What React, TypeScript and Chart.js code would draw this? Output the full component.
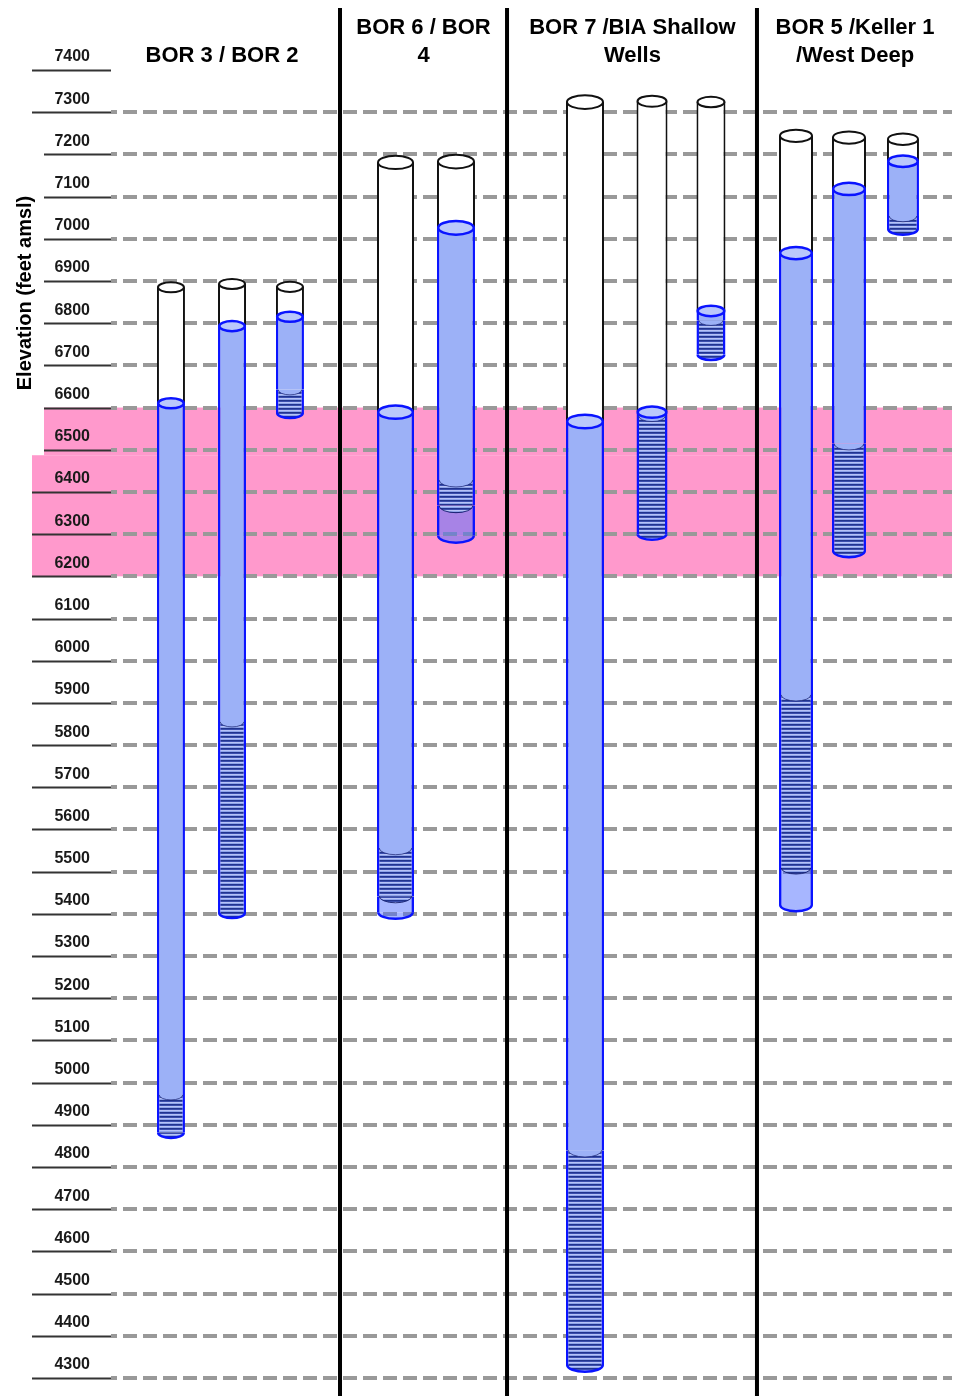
import React, { useEffect, useRef } from "react";
import { Chart, registerables } from "chart.js";

Chart.register(...registerables);

// ---------------- data ----------------
const WELLS = ["Well A", "Well B", "Well C", "Well D", "Well E", "Well F", "Well G", "Well H", "Well I", "Well J", "Well K"];
const GROUP_LABELS: string[][] = [
  ["BOR 3 / BOR 2"],
  ["BOR 6 / BOR", "4"],
  ["BOR 7 /BIA Shallow", "Wells"],
  ["BOR 5 /Keller 1", "/West Deep"],
];
const WELL_GROUP = [0, 0, 0, 1, 1, 2, 2, 2, 3, 3, 3];
// elevations in feet amsl
const WELL_TOP = [6885, 6893, 6886, 7181, 7183, 7324, 7326, 7324, 7244, 7240, 7236];
const WATER_LEVEL = [6610, 6793, 6815, 6589, 7026, 6567, 6589, 6829, 6966, 7118, 7184];
const SCREEN_TOP = [4971, 5855, 6642, 5556, 6428, 4840, 6580, 6807, 5919, 6514, 7054];
const SCREEN_BOTTOM = [4881, 5402, 6587, 5442, 6367, 4331, 6300, 6725, 5509, 6260, 7023];
const WELL_BOTTOM = [4881, 5402, 6587, 5404, 6296, 4331, 6300, 6725, 5421, 6260, 7023];
const TARGET_ZONE = [6200, 6600];
const ELEVATION_TICKS = [
  7400, 7300, 7200, 7100, 7000, 6900, 6800, 6700, 6600, 6500, 6400, 6300, 6200, 6100, 6000,
  5900, 5800, 5700, 5600, 5500, 5400, 5300, 5200, 5100, 5000, 4900, 4800, 4700, 4600, 4500,
  4400, 4300,
];
const AXIS_TITLE = "Elevation (feet amsl)";

// ---------------- layout (not data) ----------------
const WELL_SLOT = [7.13, 14.39, 21.28, 33.83, 41.02, 56.36, 64.33, 71.34, 81.45, 87.75, 94.17];
const WELL_PX = [28, 28, 28, 37, 38, 38, 31, 29, 34, 34, 32];
const GROUP_CENTER = [13.2, 37.16, 62.0, 88.47];
const GROUP_DIVIDER = [27.23, 47.09, 76.81];

const FONT = 'Arial, "Liberation Sans", Helvetica, sans-serif';
const BLUE_FILL = "#9cb1f7";
const BLUE_LINE = "#0a14ff";
const CAP_FILL = "#bac8fb";
const SUMP_FILL = "rgba(80,110,255,0.5)";
const PINK = "#ff99cc";

export default function App() {
  const ref = useRef<HTMLCanvasElement>(null);

  useEffect(() => {
    document.body.style.margin = "0";
    const canvas = ref.current!;
    const ctx0 = canvas.getContext("2d")!;
    const pc = document.createElement("canvas");
    pc.width = 4;
    pc.height = 4;
    const p = pc.getContext("2d")!;
    ["#22348e", "#3a4eae", "#b6c3f6", "#8ea3ea"].forEach((c, r) => {
      p.fillStyle = c;
      p.fillRect(0, r, 4, 1);
    });
    const hatch = ctx0.createPattern(pc, "repeat")!;

    const mk = (lo: number[], hi: number[]) =>
      WELLS.map((_, i) => ({ x: WELL_SLOT[i], y: [lo[i], hi[i]] }));

    const decor = {
      id: "wellDecor",
      afterDatasetsUpdate(chart: any) {
        chart.data.datasets.forEach((_: any, d: number) => {
          const meta = chart.getDatasetMeta(d);
          meta.data.forEach((el: any, i: number) => {
            el.width = WELL_PX[i];
          });
        });
      },
      beforeDraw(chart: any) {
        const { ctx, chartArea } = chart;
        const y = chart.scales.y;
        const yTop = y.getPixelForValue(TARGET_ZONE[1]);
        const yBot = y.getPixelForValue(TARGET_ZONE[0]);
        const ySplit = y.getPixelForValue(6487);
        ctx.save();
        ctx.fillStyle = PINK;
        ctx.fillRect(44, yTop, chartArea.right - 44, ySplit - yTop);
        ctx.fillRect(32, ySplit, chartArea.right - 32, yBot - ySplit);
        ctx.restore();
      },
      afterDatasetsDraw(chart: any) {
        const { ctx, chartArea } = chart;
        const ys = chart.scales.y;
        const xs = chart.scales.x;
        const casing = chart.getDatasetMeta(0);
        const ell = (x: number, y: number, rx: number, ry: number, half: boolean, fill: any, stroke: string, lw: number) => {
          ctx.beginPath();
          if (half) {
            ctx.moveTo(x + rx, y);
            ctx.ellipse(x, y, rx, ry, 0, 0, Math.PI);
            ctx.closePath();
          } else {
            ctx.ellipse(x, y, rx, ry, 0, 0, Math.PI * 2);
          }
          ctx.fillStyle = fill;
          ctx.fill();
          ctx.lineWidth = lw;
          ctx.strokeStyle = stroke;
          if (half) {
            ctx.beginPath();
            ctx.ellipse(x, y, rx, ry, 0, 0, Math.PI);
          }
          ctx.stroke();
        };
        ctx.save();
        WELLS.forEach((_, i) => {
          const el = casing.data[i];
          const x = el.x;
          const w = WELL_PX[i];
          const rx = w / 2 - 1.2;
          const ry = w * 0.18;
          const yTop = ys.getPixelForValue(WELL_TOP[i]);
          const yWater = ys.getPixelForValue(WATER_LEVEL[i]);
          const yScrTop = ys.getPixelForValue(SCREEN_TOP[i]);
          const yScrBot = ys.getPixelForValue(SCREEN_BOTTOM[i]);
          const yBot = ys.getPixelForValue(WELL_BOTTOM[i]);
          const hasSump = WELL_BOTTOM[i] < SCREEN_BOTTOM[i];
          // casing top
          ell(x, yTop, w / 2 - 1, ry, false, "#ffffff", "#111111", 2);
          // bottom of well
          ell(x, yBot, rx, ry, true, hasSump ? SUMP_FILL : hatch, BLUE_LINE, 2.5);
          if (hasSump) {
            ell(x, yScrBot, rx - 1, ry, true, hatch, "rgba(20,30,110,0.9)", 1);
          }
          // bottom of blank (solid) section
          if (SCREEN_TOP[i] < WATER_LEVEL[i]) {
            ell(x, yScrTop, rx - 1, ry, true, BLUE_FILL, "rgba(20,30,110,0.7)", 1);
          }
          // water level cap
          ell(x, yWater, rx, ry, false, CAP_FILL, BLUE_LINE, 2.5);
        });
        // group dividers
        ctx.strokeStyle = "#000";
        ctx.lineWidth = 4;
        GROUP_DIVIDER.forEach((v) => {
          const px = xs.getPixelForValue(v);
          ctx.beginPath();
          ctx.moveTo(px, 8);
          ctx.lineTo(px, chart.height);
          ctx.stroke();
        });
        // tick underlines
        ctx.strokeStyle = "#333";
        ctx.lineWidth = 2;
        ys.ticks.forEach((t: any) => {
          const py = Math.round(ys.getPixelForValue(t.value)) + 0.5;
          const x0 = t.value <= 7200 && t.value >= 6500 ? 44 : 32;
          ctx.beginPath();
          ctx.moveTo(x0, py);
          ctx.lineTo(chartArea.left, py);
          ctx.stroke();
        });
        // axis title
        ctx.translate(25, 293);
        ctx.rotate(-Math.PI / 2);
        ctx.fillStyle = "#000";
        ctx.font = `bold 20px ${FONT}`;
        ctx.textAlign = "center";
        ctx.textBaseline = "middle";
        ctx.fillText(AXIS_TITLE, 0, 0);
        ctx.restore();
      },
    };

    const chart = new Chart(canvas, {
      type: "bar",
      data: {
        datasets: [
          {
            label: "Dry casing",
            data: mk(WATER_LEVEL, WELL_TOP) as any,
            backgroundColor: "#ffffff",
            borderColor: "#111111",
            borderWidth: { left: 2, right: 2, top: 0, bottom: 0 },
            order: 4,
          },
          {
            label: "Blank casing (water)",
            data: mk(SCREEN_TOP, WATER_LEVEL) as any,
            backgroundColor: BLUE_FILL,
            borderColor: BLUE_LINE,
            borderWidth: { left: 2.5, right: 2.5, top: 0, bottom: 0 },
            order: 3,
          },
          {
            label: "Screen",
            data: mk(SCREEN_BOTTOM, SCREEN_TOP) as any,
            backgroundColor: hatch,
            borderColor: BLUE_LINE,
            borderWidth: { left: 2.5, right: 2.5, top: 0, bottom: 0 },
            order: 2,
          },
          {
            label: "Sump",
            data: mk(WELL_BOTTOM, SCREEN_BOTTOM) as any,
            backgroundColor: SUMP_FILL,
            borderColor: BLUE_LINE,
            borderWidth: { left: 2.5, right: 2.5, top: 0, bottom: 0 },
            order: 1,
          },
        ],
      },
      options: {
        responsive: false,
        animation: false,
        devicePixelRatio: 1,
        layout: { padding: { top: 0, left: 0, right: 5, bottom: 18 } },
        plugins: { legend: { display: false }, tooltip: { enabled: false }, title: { display: false } },
        datasets: { bar: { grouped: false, barThickness: 30, inflateAmount: 0, borderSkipped: false } as any },
        scales: {
          x: {
            type: "linear",
            position: "top",
            min: 0,
            max: 100,
            offset: false,
            grid: { display: false, drawTicks: false },
            border: { display: false },
            ticks: {
              autoSkip: false,
              maxRotation: 0,
              minRotation: 0,
              padding: 0,
              color: "#000",
              font: { family: FONT, size: 22, weight: "bold", lineHeight: 28 / 22 },
              callback: (_v: any, i: number) => GROUP_LABELS[i] ?? "",
            },
            afterBuildTicks: (s: any) => {
              s.ticks = GROUP_CENTER.map((value) => ({ value }));
            },
            afterFit: (s: any) => {
              s.height = 70;
              s.paddingLeft = 0;
              s.paddingRight = 0;
            },
          },
          y: {
            type: "linear",
            min: 4300,
            max: 7400,
            beginAtZero: false,
            afterBuildTicks: (s: any) => {
              s.ticks = ELEVATION_TICKS.map((value) => ({ value }));
            },
            ticks: {
              autoSkip: false,
              padding: 21,
              labelOffset: -13,
              color: "#1a1a1a",
              font: { family: FONT, size: 16, weight: "bold" },
              callback: (v: any) => String(v),
            },
            grid: {
              drawTicks: false,
              color: (c: any) => (c.tick && c.tick.value === 7400 ? "rgba(0,0,0,0)" : "#999999"),
              lineWidth: 4,
            },
            border: { display: false, dash: [14, 6], dashOffset: 8 },
            afterFit: (s: any) => {
              s.width = 111;
              s.paddingTop = 0;
              s.paddingBottom = 0;
            },
          },
        },
      } as any,
      plugins: [decor],
    });
    return () => chart.destroy();
  }, []);

  return (
    <canvas
      ref={ref}
      width={957}
      height={1396}
      style={{ display: "block", width: 957, height: 1396 }}
    />
  );
}
